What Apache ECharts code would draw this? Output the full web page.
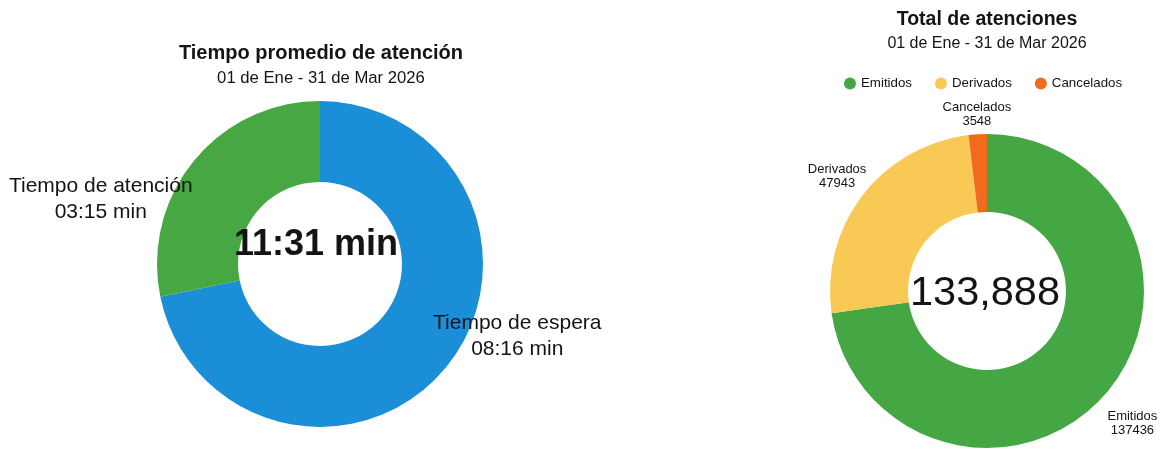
<!DOCTYPE html>
<html>
<head>
<meta charset="utf-8">
<script src="https://cdn.jsdelivr.net/npm/echarts@6/dist/echarts.min.js"></script>
<style>
html,body{margin:0;padding:0;background:#ffffff;}
#chart{width:1160px;height:449px;}
</style>
</head>
<body>
<div id="chart"></div>
<script>
// ---- Data ----
const leftTitle = 'Tiempo promedio de atención';
const leftSubtitle = '01 de Ene - 31 de Mar 2026';
const leftCategories = ['Tiempo de espera', 'Tiempo de atención'];
const leftValuesSec = [496, 195]; // 08:16, 03:15
const leftColors = ['#1a8fd7', '#46a743'];

const rightTitle = 'Total de atenciones';
const rightSubtitle = '01 de Ene - 31 de Mar 2026';
const rightCategories = ['Emitidos', 'Derivados', 'Cancelados'];
const rightValues = [137436, 47943, 3548];
const rightTotalLabel = '133,888';
const rightColors = ['#45a743', '#f8c955', '#f26a1c'];

// ---- helpers ----
function mmss(sec){
  const m = Math.floor(sec / 60), s = sec % 60;
  return String(m).padStart(2,'0') + ':' + String(s).padStart(2,'0');
}
const leftTotal = leftValuesSec.reduce((a,b)=>a+b,0);

const FONT = '"Liberation Sans", Arial, sans-serif';
const TXT = '#141414';

// label shifts (applied by labelLayout)
const leftLabelOffsets = [[100, -7], [-122, 15]];
const rightLabelOffsets = [[54, 53], [-54, -41], [-3, -56]];

const chart = echarts.init(document.getElementById('chart'), null, {renderer:'canvas'});
chart.setOption({
  backgroundColor: '#ffffff',
  animation: false,
  legend: {
    data: rightCategories,
    icon: 'circle',
    orient: 'horizontal',
    itemWidth: 12, itemHeight: 12, itemGap: 23,
    left: 839, top: 72, width: 320,
    textStyle: {fontFamily: FONT, fontSize: 13.3, color: TXT},
    selectedMode: false
  },
  graphic: [
    {type:'text', x:321, y:53, style:{text:leftTitle, font:'bold 20px ' + FONT, fill:TXT, textAlign:'center', textVerticalAlign:'middle'}},
    {type:'text', x:321, y:78, style:{text:leftSubtitle, font:'16.7px ' + FONT, fill:TXT, textAlign:'center', textVerticalAlign:'middle'}},
    {type:'text', x:316, y:245, z:10, style:{text:mmss(leftTotal) + ' min', font:'bold 36px ' + FONT, fill:TXT, textAlign:'center', textVerticalAlign:'middle'}},
    {type:'text', x:987, y:20, style:{text:rightTitle, font:'bold 19.5px ' + FONT, fill:TXT, textAlign:'center', textVerticalAlign:'middle'}},
    {type:'text', x:987, y:44, style:{text:rightSubtitle, font:'16px ' + FONT, fill:TXT, textAlign:'center', textVerticalAlign:'middle'}},
    {type:'text', x:985, y:294, z:10, style:{text:rightTotalLabel, font:'41.5px ' + FONT, fill:TXT, textAlign:'center', textVerticalAlign:'middle'}}
  ],
  series: [
    {
      type: 'pie',
      center: [320, 264],
      radius: [82, 163],
      startAngle: 90,
      clockwise: true,
      silent: true,
      data: leftCategories.map((c,i)=>({name:c, value:leftValuesSec[i], itemStyle:{color:leftColors[i]}})),
      label: {
        show: true, position: 'inside',
        formatter: p => p.name + '\n' + mmss(p.value) + ' min',
        fontFamily: FONT, fontSize: 21, lineHeight: 26, color: TXT, align: 'center'
      },
      labelLine: {show:false},
      labelLayout: p => ({dx: leftLabelOffsets[p.dataIndex][0], dy: leftLabelOffsets[p.dataIndex][1]})
    },
    {
      type: 'pie',
      center: [987, 291],
      radius: [79, 157],
      startAngle: 90,
      clockwise: true,
      silent: true,
      data: rightCategories.map((c,i)=>({name:c, value:rightValues[i], itemStyle:{color:rightColors[i]}})),
      label: {
        show: true, position: 'inside',
        formatter: '{b}\n{c}',
        fontFamily: FONT, fontSize: 13, lineHeight: 14, color: TXT, align: 'center'
      },
      labelLine: {show:false},
      labelLayout: p => ({dx: rightLabelOffsets[p.dataIndex][0], dy: rightLabelOffsets[p.dataIndex][1]})
    }
  ]
});
</script>
</body>
</html>
